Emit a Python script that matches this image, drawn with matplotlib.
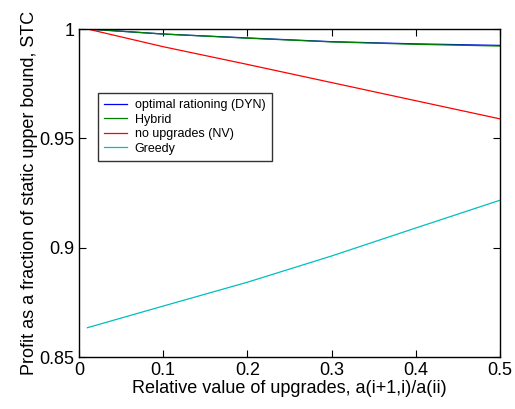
import matplotlib
matplotlib.use("Agg")
import matplotlib.pyplot as plt

plt.rcParams['font.family'] = ['Liberation Sans', 'DejaVu Sans']

x = [0.01, 0.1, 0.2, 0.3, 0.4, 0.5]
dyn = [1.0, 0.9977, 0.9959, 0.9942, 0.9932, 0.9925]
hybrid = [1.0, 0.9977, 0.9958, 0.9941, 0.9930, 0.9922]
nv = [1.0, 0.9919, 0.9838, 0.9755, 0.9672, 0.9589]
greedy = [0.8634, 0.8733, 0.8842, 0.8962, 0.9090, 0.9217]

labels = ['optimal rationing (DYN)', 'Hybrid', 'no upgrades (NV)', 'Greedy']
colors = ['#0000ff', '#008000', '#ff0000', '#00bfbf']

fig = plt.figure(figsize=(5.15, 4.09), dpi=100)
ax = fig.add_axes([79/515, 1 - 357/409, (500-79)/515, (357-29)/409])
for ys, lab, c in zip([dyn, hybrid, nv, greedy], labels, colors):
    ax.plot(x, ys, color=c, lw=0.9, label=lab)

ax.set_xlim(0, 0.5)
ax.set_ylim(0.85, 1.0)
ax.set_xticks([0, 0.1, 0.2, 0.3, 0.4, 0.5])
ax.set_xticklabels(['0', '0.1', '0.2', '0.3', '0.4', '0.5'])
ax.set_yticks([0.85, 0.9, 0.95, 1.0])
ax.set_yticklabels(['0.85', '0.9', '0.95', '1'])
ax.tick_params(direction='in', top=True, right=True, labelsize=13, length=5, width=0.8)
for s in ax.spines.values():
    s.set_linewidth(1.0)
ax.set_xlabel('Relative value of upgrades, a(i+1,i)/a(ii)', fontsize=13, labelpad=1)
ax.set_ylabel('Profit as a fraction of static upper bound, STC', fontsize=13, labelpad=1)

leg = ax.legend(loc='upper left', bbox_to_anchor=(0.045, 0.805), fontsize=9,
                frameon=True, fancybox=False, edgecolor='black', borderpad=0.5,
                labelspacing=0.2, handlelength=1.8, handletextpad=0.65, borderaxespad=0)
leg.get_frame().set_linewidth(1.0)

fig.savefig('out.png', dpi=100)
